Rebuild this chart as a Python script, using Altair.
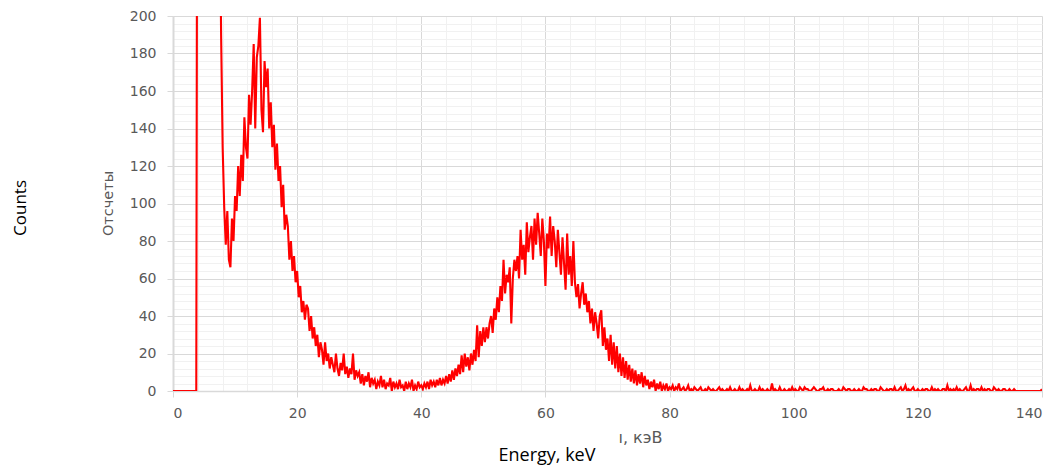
import altair as alt
import pandas as pd

# Energy channel width (keV)
energy_step = 0.25

# Counts per channel (0.25 keV channels)
counts_0_8 = [0, 0, 0, 0, 0, 0, 0, 0, 0, 0, 0, 0, 0, 0, 0, 0,
              520, 900, 1400, 1900, 2300, 2500, 2400, 2100, 1700, 1300, 950, 700, 500, 380, 280,
              190, 130, 98]
counts_8_20 = [78, 96, 70, 66, 92, 80, 104, 96, 120, 104,
               126, 112, 146, 130, 124, 158, 142, 160, 185, 140,
               178, 184, 199, 150, 138, 176, 162, 172, 140, 154,
               130, 142, 118, 132, 112, 120, 98, 110, 86, 94,
               88, 70, 80, 64, 72, 58, 64]
counts_20_30 = [50, 56, 42, 48, 38, 46, 44, 32, 40, 28,
                34, 24, 30, 18, 26, 22, 14, 26, 16, 20,
                12, 18, 14, 10, 20, 12, 8, 15, 11, 20,
                9, 13, 7, 12, 9, 20, 6, 11, 8, 10]
counts_30_40 = [4, 9, 3, 8, 5, 10, 2, 7, 4, 6,
                1, 5, 3, 8, 2, 6, 1, 4, 3, 7,
                0, 5, 2, 4, 1, 6, 2, 3, 0, 5,
                1, 4, 2, 6, 0, 3, 1, 5, 2, 3]
counts_40_50 = [1, 4, 2, 5, 1, 6, 3, 5, 2, 6,
                3, 7, 3, 6, 4, 8, 4, 9, 5, 11,
                6, 12, 8, 14, 9, 19, 10, 20, 13, 18,
                11, 20, 14, 22, 16, 35, 18, 32, 24, 34]
counts_50_60 = [26, 34, 28, 36, 40, 31, 44, 38, 50, 42,
                56, 48, 70, 52, 62, 58, 66, 36, 60, 70,
                64, 72, 60, 86, 70, 78, 62, 90, 74, 82,
                88, 70, 92, 78, 95, 84, 72, 92, 80, 56]
counts_60_70 = [84, 76, 93, 72, 88, 80, 66, 86, 74, 62,
                82, 68, 54, 84, 62, 72, 56, 80, 58, 50,
                57, 44, 52, 58, 46, 52, 42, 48, 36, 44,
                32, 42, 36, 28, 40, 43, 24, 34, 22, 28]
counts_70_80 = [16, 30, 14, 26, 12, 24, 10, 20, 8, 18,
                7, 16, 6, 14, 5, 12, 4, 11, 3, 9,
                4, 10, 2, 8, 3, 6, 1, 5, 2, 6,
                0, 4, 1, 5, 0, 3, 1, 4, 0, 2]
counts_80_140 = [1, 3, 0, 2, 1, 4, 0, 1, 2, 0, 1, 3, 0, 1, 0, 2, 1, 0, 1, 2,
                 0, 0, 1, 0, 2, 1, 0, 1, 0, 0, 1, 2, 0, 1, 0, 0, 1, 0, 2, 0,
                 0, 1, 0, 0, 2, 0, 1, 0, 0, 1, 0, 3, 0, 0, 1, 0, 0, 2, 0, 1,
                 0, 0, 1, 0, 0, 4, 0, 1, 0, 0, 2, 0, 0, 1, 0, 0, 1, 0, 2, 0,
                 1, 0, 0, 2, 1, 0, 2, 1, 1, 0, 0, 1, 2, 1, 0, 0, 1, 1, 2, 0,
                 0, 1, 0, 1, 1, 0, 0, 0, 1, 0, 0, 2, 1, 0, 1, 1, 0, 0, 1, 0,
                 0, 1, 0, 0, 2, 1, 1, 0, 0, 1, 0, 1, 1, 0, 0, 2, 1, 0, 0, 1,
                 0, 1, 1, 0, 2, 0, 0, 1, 2, 0, 1, 3, 0, 1, 0, 1, 2, 0, 0, 1,
                 0, 0, 1, 0, 1, 1, 0, 0, 2, 0, 1, 0, 1, 0, 0, 1, 1, 0, 3, 0,
                 1, 0, 1, 0, 2, 0, 1, 0, 0, 1, 2, 0, 0, 3, 0, 1, 0, 1, 1, 0,
                 2, 0, 1, 0, 1, 1, 0, 0, 2, 1, 0, 1, 0, 0, 1, 1, 0, 0, 1, 0,
                 0, 1, 0, 0, 0, 0, 0, 0, 0, 0, 0, 0, 0, 0, 0, 0, 0, 0, 0, 1]

counts = (counts_0_8 + counts_8_20 + counts_20_30 + counts_30_40 + counts_40_50
          + counts_50_60 + counts_60_70 + counts_70_80 + counts_80_140)
energy = [i * energy_step for i in range(len(counts))]

df = pd.DataFrame({"energy": energy, "counts": counts})

x_ticks = list(range(0, 141, 4))
y_ticks = list(range(0, 201, 4))

MAJOR = "#d9d9d9"
MINOR = "#f1f1f1"
GRAY_TXT = "#595959"


def cond(value_major, value_minor):
    return {"condition": {"test": "datum.value % 20 === 0", "value": value_major},
            "value": value_minor}


x_axis = alt.Axis(
    values=x_ticks,
    labelExpr="datum.value % 20 === 0 ? datum.label : ''",
    labelOverlap=False,
    labelFont="DejaVu Sans", labelFontSize=14, labelColor=GRAY_TXT, labelPadding=9,
    gridColor=cond(MAJOR, MINOR), gridWidth=1,
    tickColor=cond(MAJOR, "transparent"), tickSize=6,
    domainColor=MAJOR, domainWidth=1.5,
    title="ı, кэВ", titleFont="DejaVu Sans", titleFontSize=16, titleFontWeight="normal",
    titleColor=GRAY_TXT, titleX=467, titleY=46, titleAlign="center", titleBaseline="middle",
)
y_axis = alt.Axis(
    values=y_ticks,
    labelExpr="datum.value % 20 === 0 ? datum.label : ''",
    labelOverlap=False,
    labelFont="DejaVu Sans", labelFontSize=14, labelColor=GRAY_TXT, labelPadding=11,
    gridColor=cond(MAJOR, MINOR), gridWidth=1,
    tickColor=cond(MAJOR, "transparent"), tickSize=6,
    domainColor=MAJOR, domainWidth=2,
    title="Отсчеты", titleFont="DejaVu Sans", titleFontSize=14.5, titleFontWeight="normal",
    titleColor=GRAY_TXT, titleX=-65, titleY=187, titleAngle=270,
    titleAlign="center", titleBaseline="middle",
)

line = alt.Chart(df).mark_line(color="#ff0000", strokeWidth=2.1, clip=True).encode(
    x=alt.X("energy:Q", scale=alt.Scale(domain=[0, 140], nice=False, zero=False), axis=x_axis),
    y=alt.Y("counts:Q", scale=alt.Scale(domain=[0, 200], nice=False), axis=y_axis),
)

counts_label = alt.Chart(pd.DataFrame({"t": ["Counts"]})).mark_text(
    angle=270, font="Open Sans", fontSize=17, color="#000000", baseline="middle", align="center"
).encode(x=alt.value(-152), y=alt.value(192), text="t:N")

energy_label = alt.Chart(pd.DataFrame({"t": ["Energy, keV"]})).mark_text(
    font="Open Sans", fontSize=18, color="#000000", baseline="middle", align="center"
).encode(x=alt.value(374), y=alt.value(440), text="t:N")

chart = alt.layer(line, counts_label, energy_label).properties(
    width=869, height=375,
    autosize=alt.AutoSizeParams(type="none"),
    padding={"left": 165, "top": 8, "right": 13, "bottom": 76},
    background="#ffffff",
).configure_view(stroke=None)

chart.save("out.html", embed_options={"renderer": "svg", "actions": False})
